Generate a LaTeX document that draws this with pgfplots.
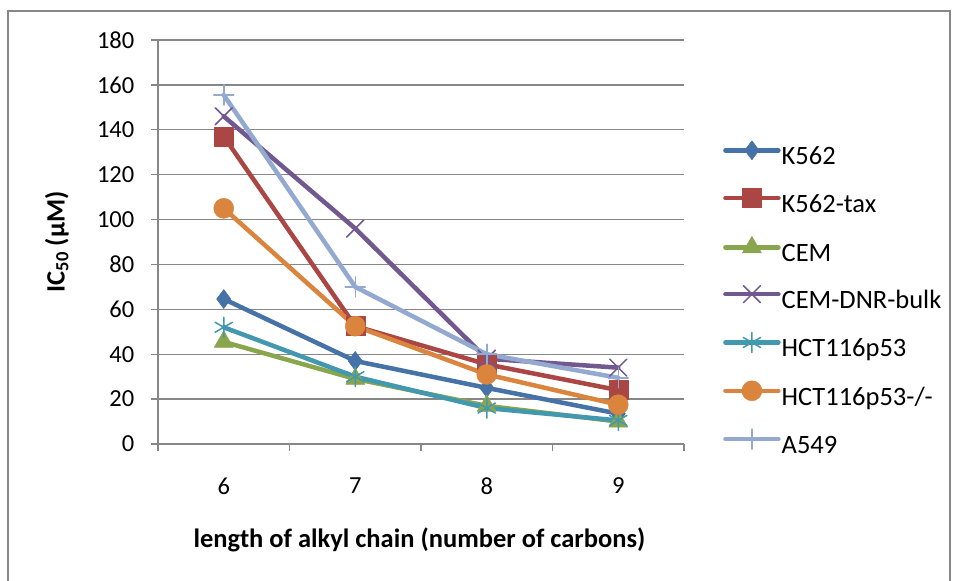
\documentclass[border=0pt]{standalone}
\usepackage{pgfplots}
\pgfplotsset{compat=1.18}
\usepackage{fontspec}
\setmainfont{Carlito}
\definecolor{cK}{HTML}{4572A7}
\definecolor{cKt}{HTML}{AA4643}
\definecolor{cCEM}{HTML}{89A54E}
\definecolor{cDNR}{HTML}{71588F}
\definecolor{cHCT}{HTML}{4198AF}
\definecolor{cHCTm}{HTML}{DB843D}
\definecolor{cA}{HTML}{93A9CF}
\definecolor{axgray}{HTML}{878787}
\begin{document}
\begin{tikzpicture}[x=1pt,y=1pt]
\path[use as bounding box] (0,0) rectangle (956,581);
\draw[color=axgray, line width=1.5pt] (8,-5) -- (8,570) -- (950,570) -- (950,-5);
\begin{axis}[
  at={(158pt,137pt)}, anchor=south west, scale only axis,
  width=526pt, height=404pt,
  xmin=5.5, xmax=9.5, ymin=0, ymax=180,
  axis lines=left, axis line style={-, draw=axgray, line width=1.3pt},
  ytick={0,20,...,180}, ymajorgrids,
  grid style={draw=axgray, line width=1.3pt},
  xtick={5.5,6.5,7.5,8.5,9.5}, x tick label as interval, xticklabels={6,7,8,9},
  tick align=outside, major tick length=6.5pt,
  tick style={draw=axgray, line width=1.3pt},
  /pgf/number format/assume math mode=true,
  ticklabel style={font=\fontsize{24.5}{28}\selectfont},
  yticklabel style={inner sep=0pt, anchor=east, xshift=-17pt},
  xticklabel style={inner sep=0pt, anchor=north, yshift=-27pt},
  xlabel={length of alkyl chain (number of carbons)},
  xlabel style={font=\bfseries\fontsize{26.5}{30}\selectfont, at={(axis description cs:0.497,0)}, anchor=center, yshift=-96pt},
  ylabel={IC\textsubscript{50} (µM)},
  ylabel style={font=\bfseries\fontsize{26.5}{30}\selectfont, at={(axis description cs:0,0.5)}, anchor=center, yshift=101pt},
  legend cell align=left,
  legend image code/.code={\draw[mark repeat=2,mark phase=2] plot coordinates {(0pt,8.5pt) (26.5pt,8.5pt) (53pt,8.5pt)};},
  legend style={at={(axis description cs:1.0741,0.751)}, anchor=north west, draw=none, fill=none,
    font=\fontsize{26.5}{30}\selectfont, row sep=17.8pt, inner sep=0pt,
    nodes={inner xsep=1pt, inner ysep=0pt, text height=18pt, text depth=6pt}},
  every axis plot/.append style={line width=4.5pt, line join=round, line cap=round},
]
\addplot[color=cK, mark=diamond*, mark size=9.5pt, mark options={solid, line width=0.5pt}]
  coordinates {(6,64.6) (7,37) (8,25) (9,13.5)};
\addlegendentry{K562}
\addplot[color=cKt, mark=square*, mark size=9.5pt, mark options={solid, line width=0.5pt}]
  coordinates {(6,137) (7,52.5) (8,35.5) (9,24)};
\addlegendentry{K562-tax}
\addplot[color=cCEM, mark=triangle*, mark size=11pt, mark options={solid, line width=0.5pt}]
  coordinates {(6,45.5) (7,29) (8,17) (9,10)};
\addlegendentry{CEM}
\addplot[color=cDNR, mark=x, mark size=12pt, mark options={solid, line width=1.5pt}]
  coordinates {(6,146) (7,96) (8,38) (9,34)};
\addlegendentry{CEM-DNR-bulk}
\addplot[color=cHCT, mark=asterisk, mark size=10pt, mark options={solid, line width=1.5pt}]
  coordinates {(6,52) (7,30) (8,16) (9,10.5)};
\addlegendentry{HCT116p53}
\addplot[color=cHCTm, mark=*, mark size=10pt, mark options={solid, line width=0.5pt}]
  coordinates {(6,105) (7,52.5) (8,31) (9,17.5)};
\addlegendentry{HCT116p53-/-}
\addplot[color=cA, mark=+, mark size=10pt, mark options={solid, line width=1.5pt}]
  coordinates {(6,155.5) (7,70) (8,40) (9,29.5)};
\addlegendentry{A549}
\end{axis}
\end{tikzpicture}
\end{document}
